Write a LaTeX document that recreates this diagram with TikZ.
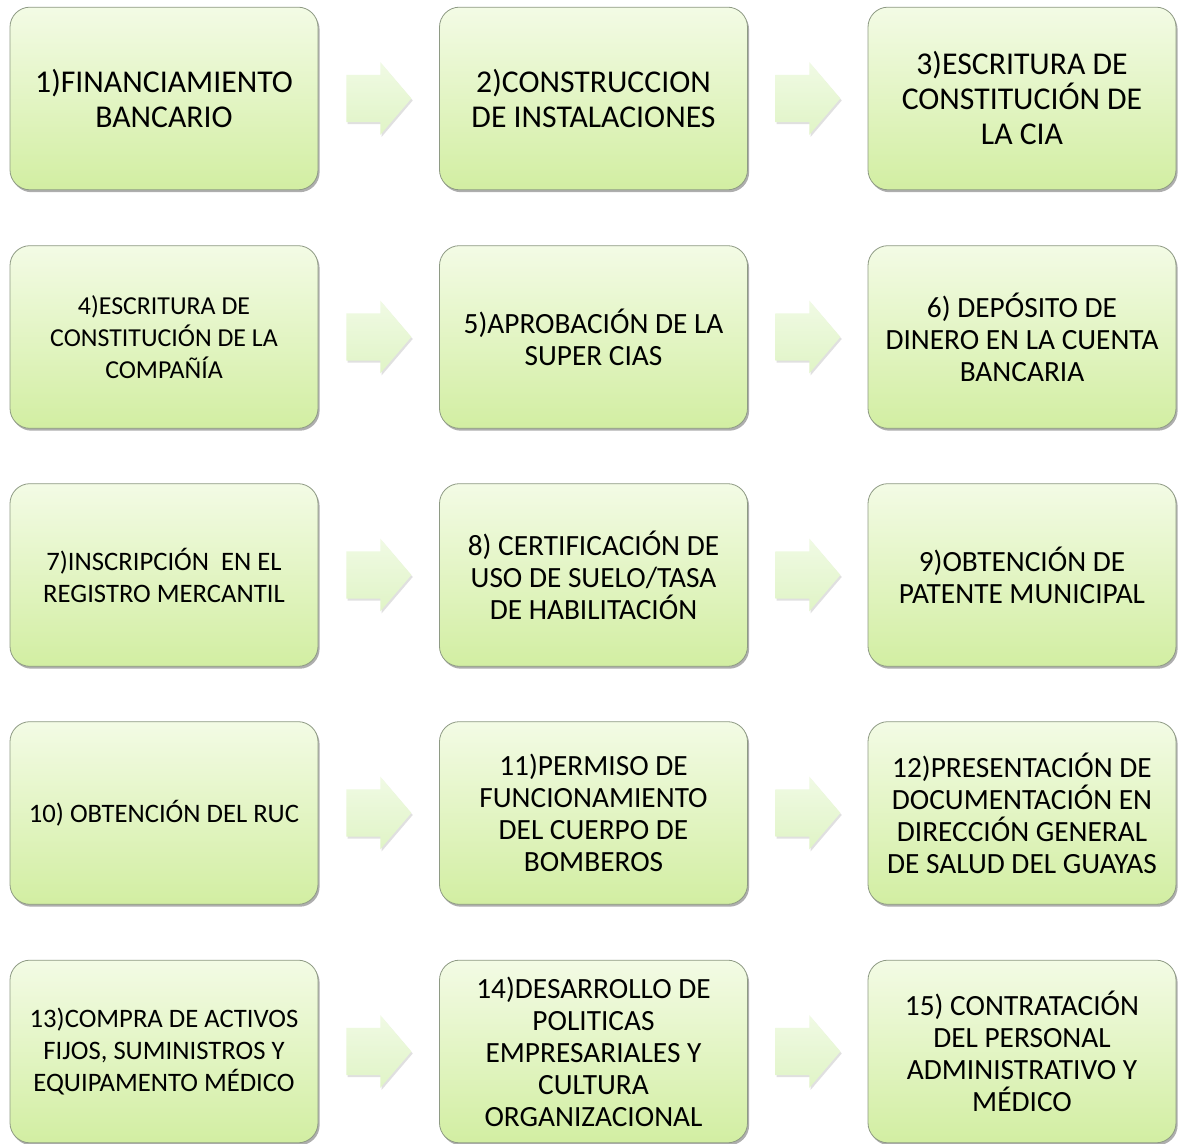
\documentclass[tikz,border=0pt]{standalone}
\usepackage{fontspec}
\setmainfont{Carlito}
\usetikzlibrary{shapes.arrows,shadows,calc}
\definecolor{boxtop}{HTML}{F3FBE5}
\definecolor{boxbot}{HTML}{D2EEA2}
\definecolor{arrtop}{HTML}{F0FAE4}
\definecolor{arrbot}{HTML}{E0F4C6}
\definecolor{edgecol}{HTML}{8E9A84}
\begin{document}
\begin{tikzpicture}[x=0.75pt,y=-0.75pt,
  stepbox/.style={draw=edgecol, line width=0.6pt, rounded corners=15pt,
    top color=boxtop, bottom color=boxbot,
    minimum width=231pt, minimum height=137pt, align=center, inner sep=2pt,
    font=\fontsize{22}{24}\selectfont,
    drop shadow={shadow xshift=1.2pt, shadow yshift=-1.8pt, opacity=0.45, fill=black!70}},
  bigtext/.style={font=\fontsize{23.8}{26.25}\selectfont},
  smalltext/.style={font=\fontsize{20}{24}\selectfont},
  flowarrow/.style={single arrow, draw=none, top color=arrtop, bottom color=arrbot,
    minimum height=48.75pt, minimum width=54pt, single arrow head extend=9.4pt,
    single arrow tip angle=99, inner xsep=0pt, inner ysep=17.6pt, xshift=-7.5pt,
    drop shadow={shadow xshift=1pt, shadow yshift=-1.5pt, opacity=0.2, fill=black!60}}
]
\useasboundingbox (0,0) rectangle (1183,1144);
\fill[white] (0,0) rectangle (1183,1144);

\node[stepbox,bigtext] (b1) at (164,98.5) {1)FINANCIAMIENTO\\BANCARIO};
\node[stepbox,bigtext] (b2) at (593.5,98.5) {2)CONSTRUCCION\\DE INSTALACIONES};
\node[stepbox,bigtext] (b3) at (1022,98.5) {3)ESCRITURA DE\\CONSTITUCIÓN DE\\LA CIA};

\node[stepbox,font=\fontsize{19.4}{24}\selectfont] (b4) at (164,337) {4)ESCRITURA DE\\CONSTITUCIÓN DE LA\\COMPAÑÍA};
\node[stepbox] (b5) at (593.5,337) {5)APROBACIÓN DE LA\\SUPER CIAS};
\node[stepbox] (b6) at (1022,337) {6) DEPÓSITO DE\\DINERO EN LA CUENTA\\BANCARIA};

\node[stepbox,smalltext] (b7) at (164,575) {7)INSCRIPCIÓN\ \ EN EL\\REGISTRO MERCANTIL};
\node[stepbox] (b8) at (593.5,575) {8) CERTIFICACIÓN DE\\USO DE SUELO/TASA\\DE HABILITACIÓN};
\node[stepbox] (b9) at (1022,575) {9)OBTENCIÓN DE\\PATENTE MUNICIPAL};

\node[stepbox,smalltext] (b10) at (164,813) {10) OBTENCIÓN DEL RUC};
\node[stepbox] (b11) at (593.5,813) {11)PERMISO DE\\FUNCIONAMIENTO\\DEL CUERPO DE\\BOMBEROS};
\node[stepbox] (b12) at (1022,813) {12)PRESENTACIÓN DE\\DOCUMENTACIÓN EN\\DIRECCIÓN GENERAL\\DE SALUD DEL GUAYAS};

\node[stepbox,smalltext] (b13) at (164,1051.5) {13)COMPRA DE ACTIVOS\\FIJOS, SUMINISTROS Y\\EQUIPAMENTO MÉDICO};
\node[stepbox] (b14) at (593.5,1051.5) {14)DESARROLLO DE\\POLITICAS\\EMPRESARIALES Y\\CULTURA\\ORGANIZACIONAL};
\node[stepbox] (b15) at (1022,1051.5) {15) CONTRATACIÓN\\DEL PERSONAL\\ADMINISTRATIVO Y\\MÉDICO};

\foreach \a/\b in {b1/b2,b2/b3,b4/b5,b5/b6,b7/b8,b8/b9,b10/b11,b11/b12,b13/b14,b14/b15}{
  \node[flowarrow] (\a-\b) at ($(\a.east)!0.5!(\b.west)$) {};
}
\end{tikzpicture}
\end{document}
